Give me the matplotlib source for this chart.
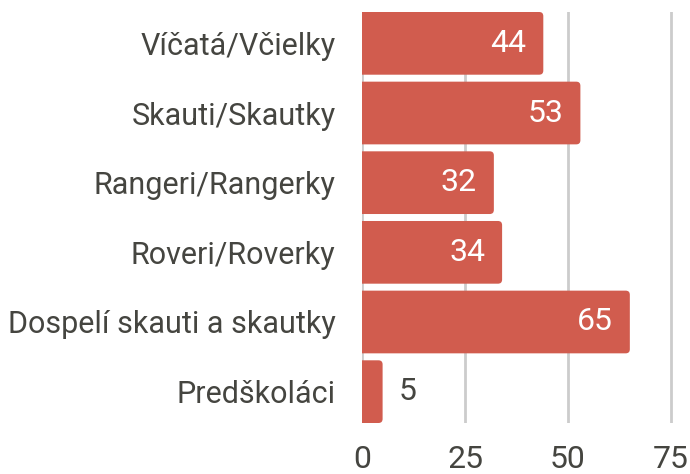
import matplotlib
matplotlib.use("Agg")
from matplotlib import pyplot as plt
from matplotlib.patches import FancyBboxPatch

categories = ["Víčatá/Včielky", "Skauti/Skautky", "Rangeri/Rangerky",
              "Roveri/Roverky", "Dospelí skauti a skautky", "Predškoláci"]
values = [44, 53, 32, 34, 65, 5]
xticks = [0, 25, 50, 75]

barColor = "#d15c4e"
textColor = "#454540"
plt.rcParams["font.family"] = ["Roboto", "DejaVu Sans"]

fig = plt.figure(figsize=(6.9, 4.74), dpi=100)
ax = fig.add_axes([362 / 690, 1 - 423 / 474, 1 - 362 / 690, 411 / 474])

xmax = 79.6
ax.set_xlim(0, xmax)
ax.set_ylim(len(values) - 0.55, -0.45)

# px per data unit, used to make corner radius look round
pxX = (690 - 362) / xmax
pxY = 411 / 5.9
barH = 0.9
for i, v in enumerate(values):
    patch = FancyBboxPatch((-2, i - barH / 2), v + 2, barH,
                           boxstyle="round,pad=0,rounding_size=1",
                           mutation_aspect=pxX / pxY,
                           facecolor=barColor, edgecolor="none", zorder=2)
    ax.add_patch(patch)
    if v > 10:
        ax.text(v - 17 / pxX, i, str(v), ha="right", va="center",
                color="white", fontsize=23, zorder=3)
    else:
        ax.text(v + 16 / pxX, i, str(v), ha="left", va="center",
                color=textColor, fontsize=23, zorder=3)

ax.set_yticks(range(len(categories)))
ax.set_yticklabels(categories)
ax.set_xticks(xticks)
ax.xaxis.grid(True, color="#cccccc", linewidth=2)
ax.set_axisbelow(True)
for s in ax.spines.values():
    s.set_visible(False)
ax.tick_params(axis="y", length=0, pad=19, labelsize=22, labelcolor=textColor)
ax.tick_params(axis="x", length=0, pad=16, labelsize=23, labelcolor=textColor)

fig.savefig("out.png", dpi=100)
